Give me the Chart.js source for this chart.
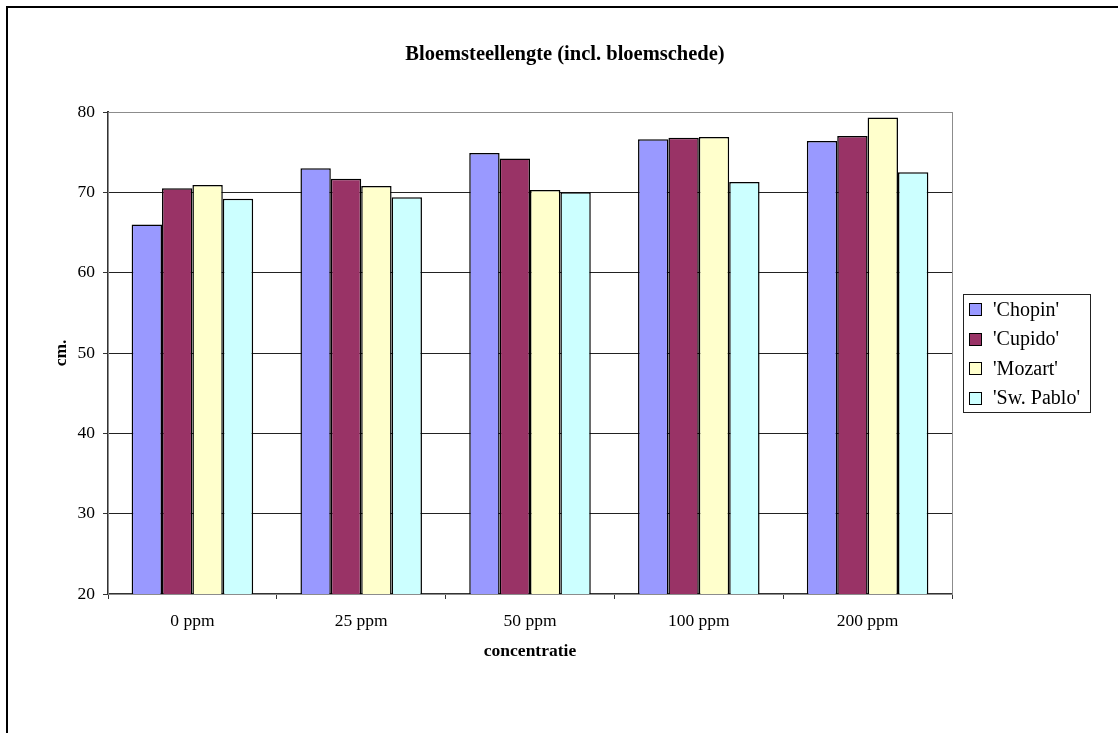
<!DOCTYPE html>
<html>
<head>
<meta charset="utf-8">
<title>Bloemsteellengte</title>
<script src="https://cdn.jsdelivr.net/npm/chart.js@4"></script>
<style>
  html, body { margin: 0; padding: 0; background: #fff; overflow: hidden; }
  #wrap { position: relative; width: 1118px; height: 733px; overflow: hidden; background: #fff; }
  #chart { position: absolute; left: 0; top: 0; }
  /* outer chart frame, only its left and top edge fall inside the page */
  #frame { position: absolute; left: 6px; top: 6px; width: 1300px; height: 900px;
           border-left: 2px solid #000; border-top: 2px solid #000; pointer-events: none; }
</style>
</head>
<body>
<div id="wrap">
  <canvas id="chart" width="1130" height="733"></canvas>
  <div id="frame"></div>
</div>
<script>
// stem length in cm per cultivar, per concentration
const concentraties = ['0 ppm', '25 ppm', '50 ppm', '100 ppm', '200 ppm'];
const chopin   = [66.0, 73.0, 74.9, 76.6, 76.4];
const cupido   = [70.5, 71.7, 74.2, 76.8, 77.0];
const mozart   = [70.9, 70.8, 70.3, 76.9, 79.3];
const swPablo  = [69.2, 69.4, 70.0, 71.3, 72.5];
const cultivars = ["'Chopin'", "'Cupido'", "'Mozart'", "'Sw. Pablo'"];
const yTicks = [20, 30, 40, 50, 60, 70, 80];

const serif = '"Liberation Serif", "Times New Roman", serif';
const colours = ['#9999FF', '#993366', '#FFFFCC', '#CCFFFF'];
const series = [chopin, cupido, mozart, swPablo];

// gray border around the plot area (right and top edges show)
const plotBorder = {
  id: 'plotBorder',
  beforeDatasetsDraw(chart) {
    const { ctx, chartArea: a } = chart;
    ctx.save();
    ctx.strokeStyle = '#8c8c8c';
    ctx.lineWidth = 1;
    ctx.strokeRect(Math.round(a.left) + 0.5, Math.round(a.top) + 0.5,
                   Math.round(a.right - a.left), Math.round(a.bottom - a.top));
    ctx.restore();
  }
};

// boxed legend to the right of the plot, centred on it
const legendBox = {
  id: 'legendBox',
  afterDraw(chart) {
    const { ctx, chartArea: a } = chart;
    const sets = chart.data.datasets;
    const rowH = 29.5;
    const h = rowH * sets.length;
    const top = Math.round((a.top + a.bottom) / 2 - h / 2) + 0.5;
    const left = 963.5, w = 127;
    ctx.save();
    ctx.fillStyle = '#fff';
    ctx.fillRect(left, top, w, h);
    ctx.strokeStyle = '#222';
    ctx.lineWidth = 1;
    ctx.strokeRect(left, top, w, h);
    ctx.font = '20px ' + serif;
    ctx.textBaseline = 'middle';
    ctx.textAlign = 'left';
    sets.forEach((ds, i) => {
      const cy = top + rowH * (i + 0.5);
      const sy = Math.round(cy - 6) + 0.5;
      ctx.fillStyle = ds.backgroundColor;
      ctx.fillRect(969.5, sy, 12, 12);
      ctx.strokeStyle = '#000';
      ctx.strokeRect(969.5, sy, 12, 12);
      ctx.fillStyle = '#000';
      ctx.fillText(ds.label, 993, cy + 1);
    });
    ctx.restore();
  }
};

new Chart(document.getElementById('chart').getContext('2d'), {
  type: 'bar',
  data: {
    labels: concentraties,
    datasets: series.map((values, i) => ({
      label: cultivars[i],
      data: values,
      backgroundColor: colours[i],
      borderColor: '#000',
      borderWidth: 1.5,
      categoryPercentage: 0.72,
      barPercentage: 1.0
    }))
  },
  options: {
    responsive: false,
    animation: false,
    devicePixelRatio: 1,
    layout: { padding: { left: 0, right: 0, top: 0, bottom: 70.6 } },
    plugins: {
      legend: { display: false },
      tooltip: { enabled: false },
      title: {
        display: true,
        text: 'Bloemsteellengte (incl. bloemschede)',
        color: '#000',
        font: { family: serif, size: 20.5, weight: 'bold', lineHeight: 1.2 },
        padding: { top: 42.7, bottom: 44.7 }
      }
    },
    scales: {
      x: {
        grid: { drawOnChartArea: false, drawTicks: true, tickLength: 5, tickColor: '#333', offset: true },
        border: { color: '#333', width: 2 },
        ticks: { color: '#000', font: { family: serif, size: 17.5, lineHeight: 1.2 }, padding: 12.2, maxRotation: 0 },
        title: {
          display: true,
          text: 'concentratie',
          color: '#000',
          font: { family: serif, size: 17.5, weight: 'bold', lineHeight: 1.2 },
          padding: { top: -3, bottom: 0 }
        }
      },
      y: {
        min: yTicks[0],
        max: yTicks[yTicks.length - 1],
        afterBuildTicks(scale) { scale.ticks = yTicks.map(v => ({ value: v })); },
        grid: {
          color: ctx => (ctx.tick && ctx.tick.value === 80) ? '#8c8c8c' : '#222',
          lineWidth: 1,
          drawTicks: true,
          tickLength: 5,
          tickColor: '#333'
        },
        border: { color: '#333', width: 2 },
        ticks: { color: '#000', font: { family: serif, size: 17.5, lineHeight: 1.2 }, padding: 8 },
        title: {
          display: true,
          text: 'cm.',
          color: '#000',
          font: { family: serif, size: 17.5, weight: 'bold', lineHeight: 1.2 },
          padding: { top: 51.2, bottom: -2.7 }
        }
      },
      // empty strip on the right that holds the legend
      legendSpace: {
        type: 'linear',
        position: 'right',
        grid: { display: false },
        border: { display: false },
        ticks: { display: false },
        afterFit(scale) { scale.width = 178; }
      }
    }
  },
  plugins: [plotBorder, legendBox]
});
</script>
</body>
</html>
